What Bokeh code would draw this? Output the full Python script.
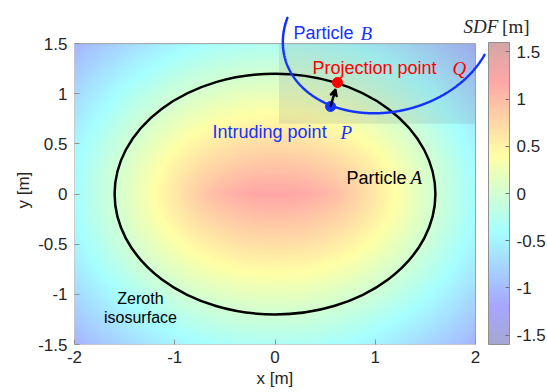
import numpy as np
from bokeh.plotting import figure
from bokeh.models import (LinearColorMapper, ColorBar, FixedTicker, Label, Arrow,
                          VeeHead, Range1d, Title)
from bokeh.embed import file_html
from bokeh.resources import INLINE

# ---------------- data ----------------
x_ticks = [-2.0, -1.0, 0.0, 1.0, 2.0]
x_tick_labels = ["-2", "-1", "0", "1", "2"]
y_ticks = [-1.5, -1.0, -0.5, 0.0, 0.5, 1.0, 1.5]
y_tick_labels = ["-1.5", "-1", "-0.5", "0", "0.5", "1", "1.5"]
cbar_ticks = [-1.5, -1.0, -0.5, 0.0, 0.5, 1.0, 1.5]
cbar_tick_labels = ["-1.5", "-1", "-0.5", "0", "0.5", "1", "1.5"]
sdf_low, sdf_high = -1.6, 1.6
domain_x = [-2.0, 2.0]
domain_y = [-1.5, 1.5]
particle_a_center = [0.0, 0.0]
particle_a_semi_axes = [1.6, 1.2]
particle_b_center = [1.132, 1.627]
particle_b_semi_axes = [0.803, 1.068]
particle_b_angle = 1.819  # radians
point_p = [0.554, 0.873]
point_q = [0.623, 1.112]
overlap_box_x = [0.04, 2.0]
overlap_box_y = [0.70, 1.5]

# visible window of particle B's outline (drawing extent)
b_visible_xmax = 2.09
b_visible_ymax = 1.76

# ---------------- SDF field of particle A ----------------
a, b = particle_a_semi_axes
nx, ny = 241, 181
gx = np.linspace(domain_x[0], domain_x[1], nx)
gy = np.linspace(domain_y[0], domain_y[1], ny)
X, Y = np.meshgrid(gx, gy)
t = np.linspace(0, 2 * np.pi, 1441)
ex = particle_a_center[0] + a * np.cos(t)
ey = particle_a_center[1] + b * np.sin(t)
px_ = X.ravel(); py_ = Y.ravel()
dmin = np.empty(px_.size)
step = 3000
for i in range(0, px_.size, step):
    cx = px_[i:i + step, None]; cy = py_[i:i + step, None]
    dmin[i:i + step] = np.hypot(cx - ex[None, :], cy - ey[None, :]).min(axis=1)
inside = ((X - particle_a_center[0]) / a) ** 2 + ((Y - particle_a_center[1]) / b) ** 2 < 1
sdf = np.where(inside.ravel(), dmin, -dmin).reshape(ny, nx)

# ---------------- particle B outline (visible arc) ----------------
th = np.linspace(0, 2 * np.pi, 1441)
ca, sa = np.cos(particle_b_angle), np.sin(particle_b_angle)
ua = particle_b_semi_axes[0] * np.cos(th)
vb = particle_b_semi_axes[1] * np.sin(th)
bx = particle_b_center[0] + ua * ca - vb * sa
by = particle_b_center[1] + ua * sa + vb * ca
mask = (bx <= b_visible_xmax) & (by <= b_visible_ymax)
start = int(np.argmax(~mask & np.roll(mask, -1))) + 1
bx = np.roll(bx, -start); by = np.roll(by, -start); mask = np.roll(mask, -start)
bx = bx[mask]; by = by[mask]

# ---------------- palette (jet, faded) ----------------
def jet_faded(n=256, alpha=0.35):
    cols = []
    for tt in np.linspace(0, 1, n):
        r = np.clip(1.5 - abs(4 * tt - 3), 0, 1)
        g = np.clip(1.5 - abs(4 * tt - 2), 0, 1)
        bb = np.clip(1.5 - abs(4 * tt - 1), 0, 1)
        rgb = [int(round(255 * (alpha * c + (1 - alpha)))) for c in (r, g, bb)]
        cols.append("#%02x%02x%02x" % tuple(rgb))
    return cols

palette = jet_faded()
mapper = LinearColorMapper(palette=palette, low=sdf_low, high=sdf_high)

# ---------------- figure ----------------
p = figure(frame_width=473, frame_height=344,
           min_border_left=74, min_border_right=0, min_border_top=0, min_border_bottom=48,
           x_range=Range1d(-2.0, 2.718), y_range=Range1d(-1.5, 1.930),
           output_backend="svg", toolbar_location=None,
           background_fill_color="white", border_fill_color="white")
p.outline_line_color = None
p.grid.visible = False

FONT = "Liberation Sans"
SERIF = "Liberation Serif"
for ax, ticks, labels, bnds in ((p.xaxis[0], x_ticks, x_tick_labels, (-2, 2)),
                                (p.yaxis[0], y_ticks, y_tick_labels, (-1.5, 1.5))):
    ax.ticker = FixedTicker(ticks=ticks)
    ax.major_label_overrides = {tk: lb for tk, lb in zip(ticks, labels)}
    ax.bounds = bnds
    ax.axis_line_color = None
    ax.major_tick_in = 5
    ax.major_tick_out = 0
    ax.major_tick_line_color = "#909090"
    ax.minor_tick_line_color = None
    ax.major_label_text_font = FONT
    ax.major_label_text_font_size = "17px"
    ax.major_label_text_color = "#262626"
p.xaxis.major_label_standoff = 6
p.yaxis.major_label_standoff = 7

# axis titles, placed under/beside the data domain rather than the whole frame
p.add_layout(Title(text="x [m]", align="left", offset=182, standoff=2,
                   text_font=FONT, text_font_size="17px", text_font_style="normal",
                   text_color="#262626"), "below")
p.add_layout(Title(text="y [m]", align="left", offset=136, standoff=6,
                   text_font=FONT, text_font_size="17px", text_font_style="normal",
                   text_color="#262626"), "left")

p.image(image=[sdf], x=domain_x[0], y=domain_y[0],
        dw=domain_x[1] - domain_x[0], dh=domain_y[1] - domain_y[0], color_mapper=mapper)
p.quad(left=[overlap_box_x[0]], right=[overlap_box_x[1]],
       bottom=[overlap_box_y[0]], top=[overlap_box_y[1]],
       fill_color="#6a6a80", fill_alpha=0.15, line_color=None)
p.quad(left=[domain_x[0]], right=[domain_x[1]], bottom=[domain_y[0]], top=[domain_y[1]],
       fill_color=None, line_color="#a0a0a0", line_width=1)

BLUE = "#1432ff"
p.ellipse(x=[particle_a_center[0]], y=[particle_a_center[1]], width=[2 * a], height=[2 * b],
          fill_color=None, line_color="black", line_width=2.5)
p.line(x=bx, y=by, line_color=BLUE, line_width=2.5, line_cap="round")

fr = 0.72
p.add_layout(Arrow(end=VeeHead(size=7, line_color="black", line_width=2, fill_color="black"),
                   x_start=point_p[0], y_start=point_p[1],
                   x_end=point_p[0] + fr * (point_q[0] - point_p[0]),
                   y_end=point_p[1] + fr * (point_q[1] - point_p[1]),
                   line_color="black", line_width=2.5))
p.scatter(x=[point_p[0]], y=[point_p[1]], size=10, color=BLUE)
p.scatter(x=[point_q[0]], y=[point_q[1]], size=10, color="#ff0000")

cb = ColorBar(color_mapper=mapper, location=(414, 0), width=21, height=302,
              padding=0, margin=0,
              ticker=FixedTicker(ticks=cbar_ticks),
              major_label_overrides={tk: lb for tk, lb in zip(cbar_ticks, cbar_tick_labels)},
              major_label_text_font=FONT, major_label_text_font_size="17px",
              major_label_text_color="#262626",
              major_tick_line_color="#707070", major_tick_in=4, major_tick_out=0,
              minor_tick_line_color=None,
              bar_line_color="#909090", border_line_color=None,
              background_fill_color=None, label_standoff=7)
p.add_layout(cb)


def lab(x, y, text, color="black", font=FONT, size="18px", style="normal", align="left",
        baseline="alphabetic", angle=0.0):
    p.add_layout(Label(x=x, y=y, text=text, text_color=color, text_font=font,
                       text_font_size=size, text_font_style=style, text_align=align,
                       text_baseline=baseline, angle=angle))

lab(0.185, 1.601, "Particle", BLUE)
lab(0.853, 1.601, "B", BLUE, SERIF, "19px", "italic")
lab(0.374, 1.252, "Projection point", "#ff0000")
lab(1.771, 1.252, "Q", "#ff0000", SERIF, "19px", "italic")
lab(-0.623, 0.614, "Intruding point", BLUE)
lab(0.653, 0.614, "P", BLUE, SERIF, "19px", "italic")
lab(0.713, 0.165, "Particle", "black")
lab(1.352, 0.165, "A", "black", SERIF, "19px", "italic")
lab(-1.342, -1.041, "Zeroth", "black", size="16px", align="center")
lab(-1.342, -1.231, "isosurface", "black", size="16px", align="center")
lab(1.880, 1.670, "SDF", "#262626", SERIF, "19px", "italic")
lab(2.265, 1.670, "[m]", "#262626", SERIF, "19px")

open("out.html", "w").write(file_html(p, INLINE))
